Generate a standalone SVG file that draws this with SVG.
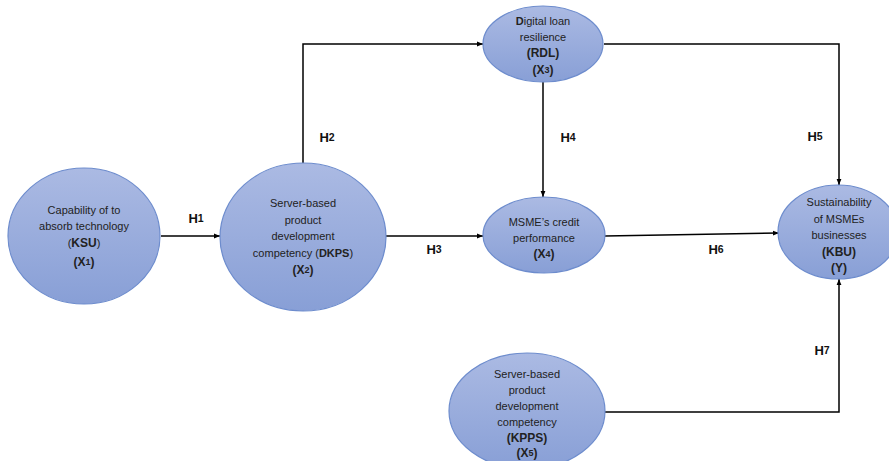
<svg xmlns="http://www.w3.org/2000/svg" width="889" height="461" viewBox="0 0 889 461">
<defs>
<linearGradient id="g" x1="0" y1="0" x2="0" y2="1">
<stop offset="0" stop-color="#abbae3"/>
<stop offset="1" stop-color="#889fd6"/>
</linearGradient>
<marker id="ar" viewBox="0 0 10 10" refX="10" refY="5" markerWidth="6" markerHeight="6" orient="auto" markerUnits="userSpaceOnUse">
<path d="M0,1 L10,5 L0,9 z" fill="#000"/>
</marker>
<style>
.n{fill:url(#g);stroke:#6d8ccd;stroke-width:1.2}
.t{font-family:"Liberation Sans",Arial,sans-serif;font-size:11px;fill:#222;text-anchor:middle;dominant-baseline:central}
.b{font-weight:bold;font-size:12px}
.h{font-family:"Liberation Sans",Arial,sans-serif;font-size:13px;font-weight:bold;fill:#111;text-anchor:middle;dominant-baseline:central}
.c{fill:none;stroke:#000;stroke-width:1.5;marker-end:url(#ar)}
</style>
</defs>
<rect width="889" height="461" fill="#fff"/>
<g id="connectors">
<path class="c" d="M161,236 H220"/>
<path class="c" d="M303,163 V44 H483"/>
<path class="c" d="M604,44 H839 V185"/>
<path class="c" d="M543,82 V197"/>
<path class="c" d="M386,236 H483"/>
<path class="c" d="M605,236 L779,233"/>
<path class="c" d="M605,412 H839 V279"/>
</g>
<g id="labels">
<text class="h" x="196" y="218">H<tspan font-size="10.5">1</tspan></text>
<text class="h" x="327" y="137">H<tspan font-size="10.5">2</tspan></text>
<text class="h" x="434" y="249">H<tspan font-size="10.5">3</tspan></text>
<text class="h" x="568" y="137">H<tspan font-size="10.5">4</tspan></text>
<text class="h" x="815" y="136">H<tspan font-size="10.5">5</tspan></text>
<text class="h" x="716" y="249">H<tspan font-size="10.5">6</tspan></text>
<text class="h" x="822" y="350">H<tspan font-size="10.5">7</tspan></text>
</g>
<g id="X1">
<ellipse class="n" cx="84" cy="236" rx="76" ry="68"/>
<text class="t" x="84" y="210">Capability of to</text>
<text class="t" x="84" y="226">absorb technology</text>
<text class="t" x="84" y="243">(<tspan class="b">KSU</tspan>)</text>
<text class="t b" x="84" y="262">(X<tspan font-size="9">1</tspan>)</text>
</g>
<g id="X2">
<ellipse class="n" cx="303" cy="237" rx="83" ry="74"/>
<text class="t" x="303" y="203">Server-based</text>
<text class="t" x="303" y="220">product</text>
<text class="t" x="303" y="236">development</text>
<text class="t" x="303" y="253">competency (<tspan font-weight="bold">DKPS</tspan>)</text>
<text class="t b" x="303" y="270">(X<tspan font-size="9">2</tspan>)</text>
</g>
<g id="X3">
<ellipse class="n" cx="543" cy="44" rx="60" ry="38"/>
<text class="t" x="543" y="21"><tspan font-weight="bold">D</tspan>igital loan</text>
<text class="t" x="543" y="37">resilience</text>
<text class="t b" x="543" y="53">(RDL)</text>
<text class="t b" x="543" y="70">(X<tspan font-size="9">3</tspan>)</text>
</g>
<g id="X4">
<ellipse class="n" cx="544" cy="235" rx="61" ry="38"/>
<text class="t" x="544" y="222">MSME’s credit</text>
<text class="t" x="544" y="238">performance</text>
<text class="t b" x="544" y="254">(X<tspan font-size="9">4</tspan>)</text>
</g>
<g id="Y">
<ellipse class="n" cx="838" cy="232" rx="60" ry="47"/>
<text class="t" x="839" y="202">Sustainability</text>
<text class="t" x="839" y="219">of MSMEs</text>
<text class="t" x="839" y="235">businesses</text>
<text class="t b" x="839" y="252">(KBU)</text>
<text class="t b" x="839" y="268">(Y)</text>
</g>
<g id="X5">
<ellipse class="n" cx="527" cy="411" rx="78" ry="58"/>
<text class="t" x="527" y="374">Server-based</text>
<text class="t" x="527" y="390">product</text>
<text class="t" x="527" y="406">development</text>
<text class="t" x="527" y="422">competency</text>
<text class="t b" x="527" y="438">(KPPS)</text>
<text class="t b" x="527" y="453">(X<tspan font-size="9">5</tspan>)</text>
</g>
</svg>
